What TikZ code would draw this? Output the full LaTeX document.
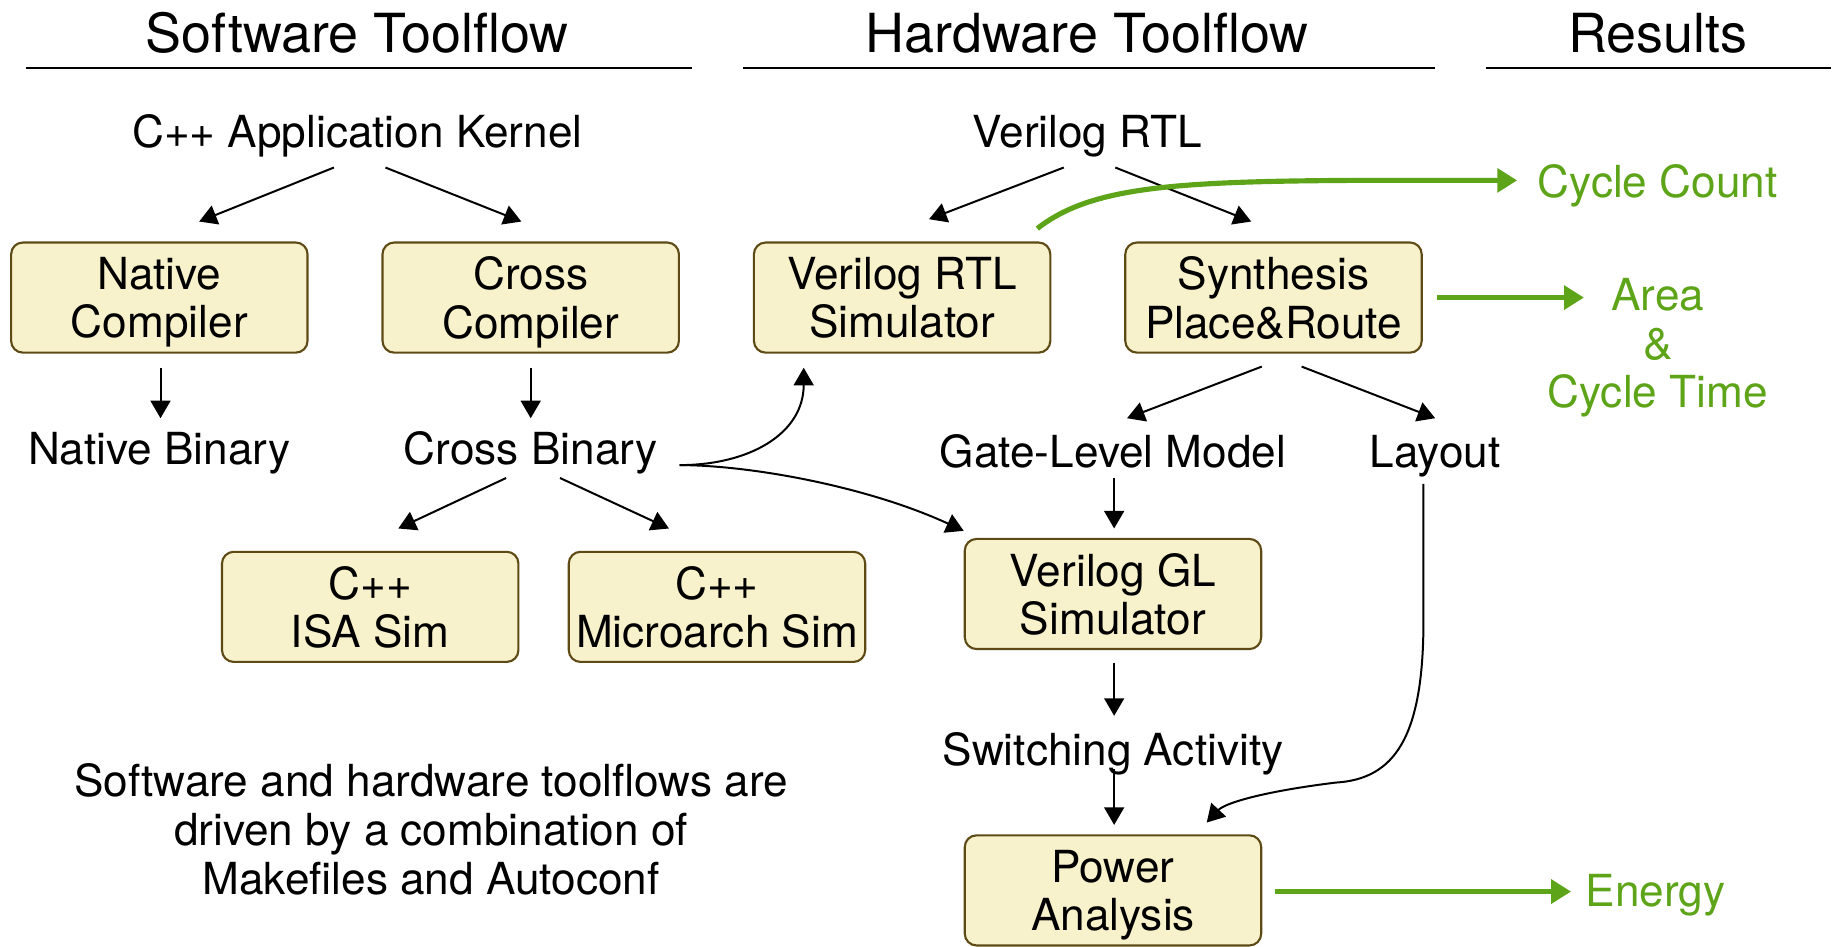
\documentclass[tikz,border=0pt]{standalone}
\usepackage{fontspec}
\setmainfont{TeX Gyre Heros}
\usetikzlibrary{arrows.meta}
\definecolor{boxfill}{HTML}{F7F2CB}
\definecolor{boxline}{HTML}{5E4A14}
\definecolor{resgreen}{HTML}{5EA419}
% last line of a box label: descenders do not push the text upwards
\newcommand{\lastline}[1]{\smash{#1}}

\begin{document}
\begin{tikzpicture}[x=0.5pt,y=-0.5pt,
  every node/.style={font=\fontsize{18.85pt}{20.6pt}\selectfont, inner sep=0pt},
  lbl/.style={anchor=base},
  stage/.style={draw=boxline, line width=0.9pt, fill=boxfill, rounded corners=5pt,
    minimum width=126.5pt, minimum height=47pt, align=center},
  head/.style={anchor=base, font=\fontsize{23pt}{26pt}\selectfont},
  rule/.style={line width=0.9pt},
  flow/.style={line width=0.85pt, -{Triangle[length=7.5pt,width=8.5pt]}},
  res/.style={draw=resgreen, line width=2.2pt, -{Triangle[length=8.5pt,width=10pt]}},
  restext/.style={text=resgreen}]

\useasboundingbox (0,0) rectangle (1568,808);

% column headings with their rules
\node[head] (hsw) at (305,45) {Software Toolflow};
\node[head] (hhw) at (928,45) {Hardware Toolflow};
\node[head] (hres) at (1415,45) {Results};
\coordinate (swl) at (22,58);  \coordinate (swr) at (591,58);
\coordinate (hwl) at (634,58); \coordinate (hwr) at (1225,58);
\coordinate (rl) at (1268,58); \coordinate (rr) at (1563,58);
\draw[rule] (swl) -- (swr);
\draw[rule] (hwl) -- (hwr);
\draw[rule] (rl) -- (rr);

% software toolflow
\node[lbl] (kern) at (305,125.5) {C++ Application Kernel};
\node[stage] (nc) at (136,254) {Native\\\lastline{Compiler}};
\node[stage] (cc) at (453,254) {Cross\\\lastline{Compiler}};
\node[lbl] (nb) at (136,396.5) {Native Binary};
\node[lbl] (cb) at (453,396.5) {Cross Binary};
\node[stage] (isa) at (316,518) {C++\\\lastline{ISA Sim}};
\node[stage] (uarch) at (612,518) {C++\\\lastline{Microarch Sim}};

% hardware toolflow
\node[lbl] (rtl) at (928,125.5) {Verilog RTL};
\node[stage] (vsim) at (770,254) {Verilog RTL\\\lastline{Simulator}};
\node[stage] (syn) at (1087,254) {Synthesis\\\lastline{Place\&Route}};
\node[lbl] (glm) at (950,399) {Gate-Level Model};
\node[lbl] (lay) at (1225,399) {Layout};
\node[stage] (glsim) at (950,507) {Verilog GL\\\lastline{Simulator}};
\node[lbl] (sw) at (950,653.5) {Switching Activity};
\node[stage] (pa) at (950,760) {Power\\\lastline{Analysis}};

% results
\node[lbl, restext] (cyc) at (1415,168.5) {Cycle Count};
\node[restext, align=center, font=\fontsize{18.85pt}{20.8pt}\selectfont] (area) at (1415,297) {Area\\\&\\Cycle Time};
\node[lbl, restext] (energy) at (1413,773.5) {Energy};

% note
\node[align=center, font=\fontsize{18.85pt}{21pt}\selectfont] (note) at (368,708)
  {Software and hardware toolflows are\\driven by a combination of\\Makefiles and Autoconf};

% software connectors
\draw[flow] ([shift={(-20,17.5)}]kern.base) -- ([shift={(34,-17)}]nc.north);
\draw[flow] ([shift={(24,17.5)}]kern.base) -- ([shift={(-8,-17)}]cc.north);
\draw[flow] ([shift={(1,12)}]nc.south) -- ([shift={(1,-39.5)}]nb.base);
\draw[flow] ([shift={(0,12)}]cc.south) -- ([shift={(0,-39.5)}]cb.base);
\draw[flow] ([shift={(-21,11.5)}]cb.base) -- ([shift={(24,-19)}]isa.north);
\draw[flow] ([shift={(25,11.5)}]cb.base) -- ([shift={(-41,-19)}]uarch.north);
\draw[flow] ([shift={(127,0.5)}]cb.base) .. controls (640,397) and (686,370) .. ([shift={(-84,12)}]vsim.south);
\draw[flow] ([shift={(127,0.5)}]cb.base) .. controls (640,397) and (740,415) .. ([shift={(0,-6)}]glsim.north west);

% hardware connectors
\draw[flow] ([shift={(-20,17.5)}]rtl.base) -- ([shift={(23,-19)}]vsim.north);
\draw[flow] ([shift={(24,17.5)}]rtl.base) -- ([shift={(-19,-17)}]syn.north);
\draw[flow] ([shift={(-10,11)}]syn.south) -- ([shift={(12,-42)}]glm.base);
\draw[flow] ([shift={(24,11)}]syn.south) -- ([shift={(0,-42)}]lay.base);
\draw[flow] ([shift={(1,9)}]glm.base) -- ([shift={(1,-8)}]glsim.north);
\draw[flow] ([shift={(1,11)}]glsim.south) -- ([shift={(1,-42.5)}]sw.base);
\draw[flow] ([shift={(1,2.5)}]sw.base) -- ([shift={(1,-8)}]pa.north);
\draw[flow] ([shift={(-10,14)}]lay.base) -- (1215,530)
  .. controls (1215,630) and (1190,665) .. (1140,668)
  .. controls (1075,676) and (1045,686) .. ([shift={(80,-10)}]pa.north);

% result connectors
\draw[res] ([shift={(-12,-11)}]vsim.north east) .. controls (930,160) and (1000,155) .. (1150,154)
  -- ([shift={(-120,-14.5)}]cyc.base);
\draw[res] ([shift={(12,0)}]syn.east) -- ([shift={(-63,-43)}]area.center);
\draw[res] ([shift={(11,1)}]pa.east) -- ([shift={(-72,-12.5)}]energy.base);
\end{tikzpicture}
\end{document}
